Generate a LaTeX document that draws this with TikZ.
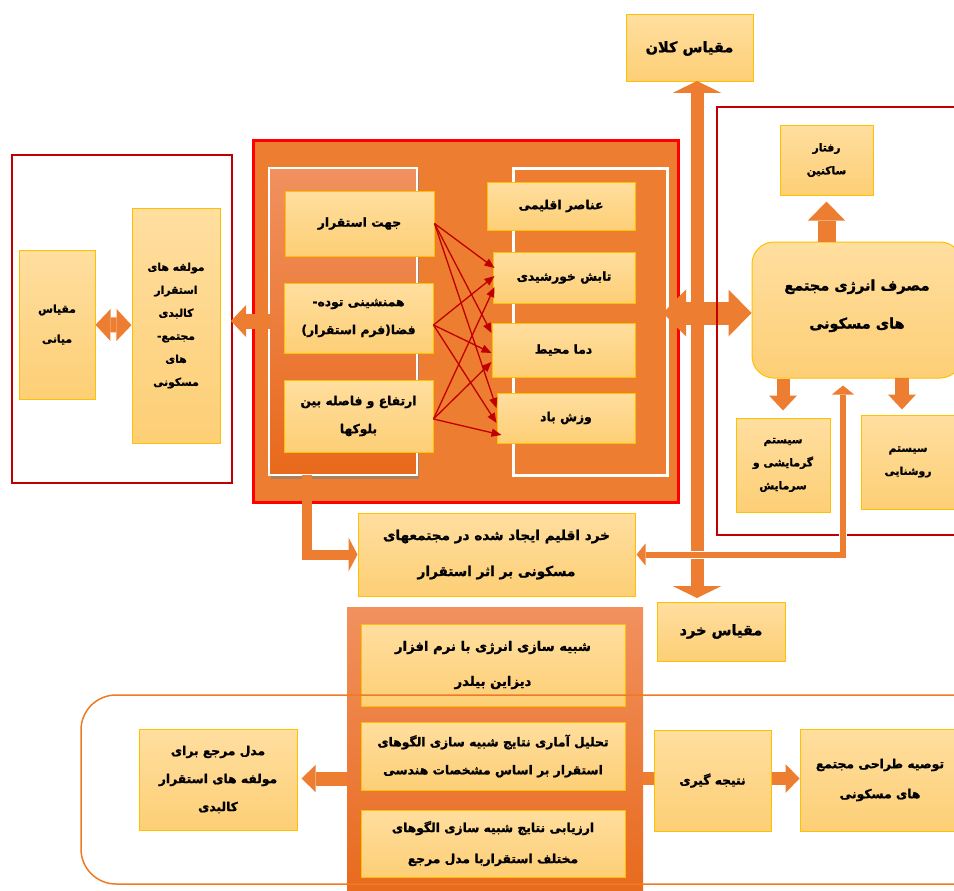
\documentclass[tikz,border=0pt]{standalone}
\usepackage{fontspec}
\newfontfamily\arabicfont[Script=Arabic,BoldFeatures={FakeBold=1.3}]{DejaVu Sans}
\TeXXeTstate=1
\usetikzlibrary{arrows.meta,calc,shadows}
\definecolor{boxtop}{HTML}{FFDE9F}
\definecolor{boxbot}{HTML}{FDCF76}
\definecolor{boxline}{HTML}{FFC000}
\definecolor{arrorange}{HTML}{ED7D31}
\definecolor{darkred}{HTML}{C00000}
\definecolor{paneltop}{HTML}{F1915F}
\definecolor{panelbot}{HTML}{E8691B}
\definecolor{framerim}{HTML}{F07A22}
\newcommand{\fa}[1]{\beginR #1\endR}
\tikzset{
  fasize/.style 2 args={font=\arabicfont\bfseries\fontsize{#1}{#2}\selectfont},
  box/.style={draw=boxline,line width=1pt,top color=boxtop,bottom color=boxbot,
    align=center,inner sep=1pt,fasize={12.3}{28}},
  bigtext/.style={fasize={14.5}{38}},
  smalltext/.style={fasize={10.8}{23}},
  widetext/.style={fasize={13.6}{36}},
  redline/.style={darkred,line width=1.3pt,-{Triangle[width=8pt,length=10pt]}},
  blk/.style={arrorange,line width=#1,line join=miter},
  vtip/.tip={Triangle[width=49pt,length=12pt,line width=0pt]},
  htip/.tip={Triangle[width=47pt,length=23pt,line width=0pt]},
  mtip/.tip={Triangle[width=32pt,length=15pt,line width=0pt]},
  stip/.tip={Triangle[width=28pt,length=15pt,line width=0pt]},
  ltip/.tip={Triangle[width=34pt,length=9pt,line width=0pt]},
  ttip/.tip={Triangle[width=22pt,length=9pt,line width=0pt]},
}
\begin{document}
\begin{tikzpicture}[x=1pt,y=-1pt]
\useasboundingbox (0,0) rectangle (954,891);
% left frame (meso scale)
\draw[darkred,line width=1.5pt] (12,155) rectangle (232,483);
\node[box,fasize={10.8}{30},minimum width=76pt,minimum height=149pt] (mianeh) at (57,324.5) {\fa{مقیاس}\\\fa{میانی}};
\node[box,smalltext,minimum width=88pt,minimum height=235pt] (mowlafe) at (176,325.5)
  {\fa{مولفه های}\\\fa{استقرار}\\\fa{کالبدی}\\\fa{مجتمع-}\\\fa{های}\\\fa{مسکونی}};
\draw[blk=15pt,mtip-mtip] (mianeh) -- (mowlafe);
% central block
\draw[red,line width=3pt,fill=arrorange] (253,140) rectangle (678,502);
\draw[white,line width=2pt,top color=paneltop,bottom color=panelbot,
  drop shadow={shadow xshift=2pt,shadow yshift=-4pt,opacity=.6}] (269,168) rectangle (417,475);
\draw[white,line width=3pt] (513,168) rectangle (667,475);
\node[box,minimum width=149pt,minimum height=65pt] (jahat) at (359.5,223.5) {\fa{جهت استقرار}};
\node[box,minimum width=149pt,minimum height=70pt] (hamneshini) at (358.5,318)
  {\fa{همنشینی توده-}\\\fa{فضا(فرم استقرار)}};
\node[box,minimum width=149pt,minimum height=72pt] (ertefa) at (358.5,416)
  {\fa{ارتفاع و فاصله بین}\\\fa{بلوکها}};
\node[box,minimum width=148pt,minimum height=48pt] (anasor) at (561,206) {\fa{عناصر اقلیمی}};
\node[box,minimum width=142pt,minimum height=51pt] (tabesh) at (564,277.5) {\fa{تابش خورشیدی}};
\node[box,minimum width=143pt,minimum height=54pt] (dama) at (563.5,350) {\fa{دما محیط}};
\node[box,minimum width=138pt,minimum height=50pt] (vazesh) at (566,418) {\fa{وزش باد}};
\draw[redline] (jahat.east) -- ($(tabesh.west)+(2,-9.5)$);
\draw[redline] (jahat.east) -- ($(dama.west)+(0,-17)$);
\draw[redline] (jahat.east) -- ($(vazesh.west)+(0,-10)$);
\draw[redline] ($(hamneshini.east)+(0,7)$) -- ($(tabesh.west)+(2,-1.5)$);
\draw[redline] ($(hamneshini.east)+(0,7)$) -- ($(dama.west)+(0,3)$);
\draw[redline] ($(hamneshini.east)+(0,7)$) -- ($(vazesh.west)+(0,5)$);
\draw[redline] ($(ertefa.east)+(0,3)$) -- ($(tabesh.west)+(2,9.5)$);
\draw[redline] ($(ertefa.east)+(0,3)$) -- ($(dama.west)+(0,12)$);
\draw[redline] ($(ertefa.east)+(0,3)$) -- ($(vazesh.west)+(5,17)$);
\coordinate (panelw) at (270,321);
\coordinate (framew) at (231,321);
\draw[blk=15pt,-mtip] (panelw) -- (framew);
% scales
\node[box,bigtext,minimum width=127pt,minimum height=67pt] (kalan) at (689.5,48.5) {\fa{مقیاس کلان}};
\node[box,bigtext,minimum width=128pt,minimum height=59pt] (khord) at (721,631.5) {\fa{مقیاس خرد}};
\coordinate (vtop) at (697,81);
\coordinate (vbot) at (697,598);
\draw[white,line width=16pt] (697,93) -- (697,585);
\draw[blk=13pt,vtip-vtip] (vtop) -- (vbot);
% energy consumption
\node[box,bigtext,rounded corners=22pt,minimum width=210pt,minimum height=136pt] (masraf) at (857,310)
  {\fa{مصرف انرژی مجتمع}\\\fa{های مسکونی}\\[-26pt]};
\coordinate (hleft) at (663,313);
\draw[blk=23pt,htip-htip] (hleft) -- (hleft -| masraf.west);
\draw[darkred,line width=1.5pt] (717,107) rectangle (970,535);
\node[box,smalltext,minimum width=93pt,minimum height=70pt] (raftar) at (826.5,160) {\fa{رفتار}\\\fa{ساکنین}};
\node[box,smalltext,minimum width=94pt,minimum height=94pt] (garma) at (783,465)
  {\fa{سیستم}\\\fa{گرمایشی و}\\\fa{سرمایش}};
\node[box,smalltext,minimum width=94pt,minimum height=94pt] (roshan) at (908,462) {\fa{سیستم}\\\fa{روشنایی}};
\draw[blk=18pt,-{Triangle[width=37pt,length=19pt,line width=0pt]},shorten >=6pt] (raftar.south |- masraf.north) -- (raftar.south);
\draw[blk=13pt,-stip,shorten >=7pt] (garma.north |- masraf.south) -- (garma.north);
\coordinate (roshtop) at (902,378);
\draw[blk=14pt,-stip,shorten >=5pt] (roshtop) -- (roshtop |- roshan.north);
% micro climate
\node[box,widetext,minimum width=277pt,minimum height=83pt] (khordeqlim) at (496.5,554.5)
  {\fa{خرد اقلیم ایجاد شده در مجتمعهای}\\\fa{مسکونی بر اثر استقرار}};
\coordinate (lcorner) at (843,554.5);
\draw[white,line width=8pt] (khordeqlim.east) ++(12,0) -- (lcorner) -- (843,392);
\draw[blk=6pt,ttip-ttip,shorten <=1pt,shorten >=7pt] (khordeqlim.east) -- (lcorner) -- (lcorner |- masraf.south);
\coordinate (panels) at (306.5,475);
\draw[blk=10pt,-ltip] (panels) |- (khordeqlim.west);
% simulation column
\fill[top color=paneltop,bottom color=panelbot] (347,607) rectangle (643,900);
\node[box,fasize={13.2}{35},minimum width=264pt,minimum height=82pt] (shabih) at (493,665)
  {\fa{شبیه سازی انرژی با نرم افزار}\\\fa{دیزاین بیلدر}};
\node[box,minimum width=264pt,minimum height=68pt] (tahlil) at (493,756)
  {\fa{تحلیل آماری  نتایج شبیه سازی الگوهای}\\\fa{استقرار بر اساس مشخصات هندسی}};
\node[box,fasize={12.3}{31},minimum width=264pt,minimum height=67pt] (arzyabi) at (493,843.5)
  {\fa{ارزیابی نتایج شبیه سازی الگوهای}\\\fa{مختلف استقراربا مدل مرجع}};
\draw[framerim,line width=1.5pt,rounded corners=35pt] (81,695) rectangle (990,884);
\node[box,minimum width=158pt,minimum height=101pt] (marja) at (218,779.5)
  {\fa{مدل مرجع برای}\\\fa{مولفه های استقرار}\\\fa{کالبدی}};
\node[box,minimum width=117pt,minimum height=101pt] (natije) at (712.5,780.5) {\fa{نتیجه گیری}};
\node[box,fasize={12.3}{30},minimum width=160pt,minimum height=102pt] (tosie) at (880,780)
  {\fa{توصیه طراحی مجتمع}\\\fa{های مسکونی}};
\coordinate (colw) at (347,778.5);
\coordinate (cole) at (643,778.5);
\draw[blk=14pt,-{Triangle[width=27pt,length=14pt,line width=0pt]},shorten >=4pt] (colw) -- (colw -| marja.east);
\draw[blk=13pt] (cole) -- (cole -| natije.west);
\draw[blk=13pt,-{Triangle[width=29pt,length=14pt,line width=0pt]}] (natije.east |- cole) -- (cole -| tosie.west);
\end{tikzpicture}
\end{document}
